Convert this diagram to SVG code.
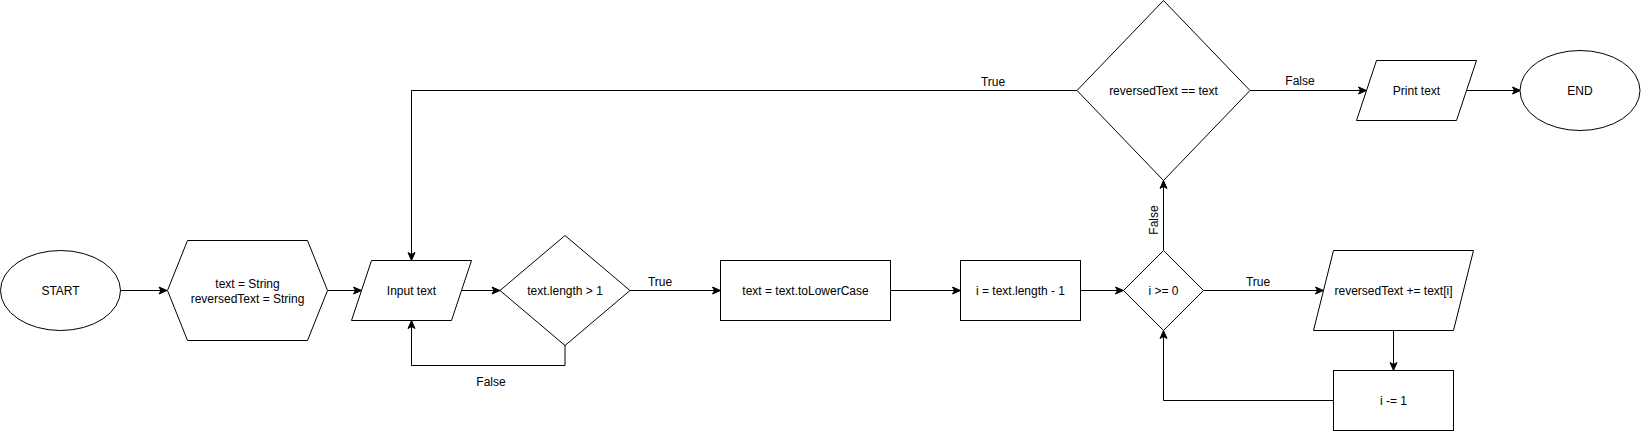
<svg xmlns="http://www.w3.org/2000/svg" width="1641" height="431" viewBox="0 0 1641 431">
<style>
.n{fill:#fff;stroke:#000;stroke-width:1}
.t{font-family:"Liberation Sans",Arial,Helvetica,sans-serif;font-size:12px;fill:#000;text-anchor:middle;dominant-baseline:central}
.e{fill:none;stroke:#000;stroke-width:1}
</style>
<defs>
<marker id="arr" markerUnits="userSpaceOnUse" markerWidth="10" markerHeight="10" viewBox="0 0 10 10" refX="9" refY="5" orient="auto">
<path d="M1,1.5 L9,5 L1,8.5 L3,5 Z" fill="#000" stroke="#000" stroke-width="1"/>
</marker>
</defs>
<rect width="1641" height="431" fill="#fff"/>
<g id="connectors">
<path class="e" d="M120.5,290.5 H167" marker-end="url(#arr)"/>
<path class="e" d="M327.5,290.5 H361.5" marker-end="url(#arr)"/>
<path class="e" d="M461.5,290.5 H500" marker-end="url(#arr)"/>
<path class="e" d="M630,290.5 H720.5" marker-end="url(#arr)"/>
<path class="e" d="M565,345 V365.5 H411.5 V320.5" marker-end="url(#arr)"/>
<path class="e" d="M890.5,290.5 H960.5" marker-end="url(#arr)"/>
<path class="e" d="M1080.5,290.5 H1123.5" marker-end="url(#arr)"/>
<path class="e" d="M1203.5,290.5 H1323.5" marker-end="url(#arr)"/>
<path class="e" d="M1393.5,330 V370.5" marker-end="url(#arr)"/>
<path class="e" d="M1333.5,400.5 H1163.5 V330.5" marker-end="url(#arr)"/>
<path class="e" d="M1163.5,250 V180.5" marker-end="url(#arr)"/>
<path class="e" d="M1077,90.5 H411.5 V260.5" marker-end="url(#arr)"/>
<path class="e" d="M1250,90.5 H1366.5" marker-end="url(#arr)"/>
<path class="e" d="M1466.5,90.5 H1520.5" marker-end="url(#arr)"/>
<text class="t" x="660" y="282">True</text>
<text class="t" x="491" y="382">False</text>
<text class="t" x="1258" y="282">True</text>
<text class="t" transform="translate(1154,220) rotate(-90)" x="0" y="0">False</text>
<text class="t" x="993" y="82">True</text>
<text class="t" x="1300" y="81">False</text>
</g>
<g id="start">
<ellipse class="n" cx="60.5" cy="290.5" rx="60" ry="40"/>
<text class="t" x="60.5" y="290.5">START</text>
</g>
<g id="declare">
<polygon class="n" points="167.5,290.5 187.5,240.5 307.5,240.5 327.5,290.5 307.5,340.5 187.5,340.5"/>
<text class="t" x="247.5" y="284">text = String</text>
<text class="t" x="247.5" y="298.5">reversedText = String</text>
</g>
<g id="input">
<polygon class="n" points="371.5,260.5 471.5,260.5 451.5,320.5 351.5,320.5"/>
<text class="t" x="411.5" y="290.5">Input text</text>
</g>
<g id="lengthCheck">
<polygon class="n" points="500,290.5 565,235.5 630,290.5 565,345.5"/>
<text class="t" x="565" y="290.5">text.length &gt; 1</text>
</g>
<g id="lower">
<rect class="n" x="720.5" y="260.5" width="170" height="60"/>
<text class="t" x="805.5" y="290.5">text = text.toLowerCase</text>
</g>
<g id="initI">
<rect class="n" x="960.5" y="260.5" width="120" height="60"/>
<text class="t" x="1020.5" y="290.5">i = text.length - 1</text>
</g>
<g id="loopCheck">
<polygon class="n" points="1123.5,290.5 1163.5,250.5 1203.5,290.5 1163.5,330.5"/>
<text class="t" x="1163.5" y="290.5">i &gt;= 0</text>
</g>
<g id="append">
<polygon class="n" points="1333.5,250.5 1473.5,250.5 1453.5,330.5 1313.5,330.5"/>
<text class="t" x="1393.5" y="290.5">reversedText += text[i]</text>
</g>
<g id="decrement">
<rect class="n" x="1333.5" y="370.5" width="120" height="60"/>
<text class="t" x="1393.5" y="400.5">i -= 1</text>
</g>
<g id="compare">
<polygon class="n" points="1077,90.5 1163.5,0.5 1250,90.5 1163.5,180.5"/>
<text class="t" x="1163.5" y="90.5">reversedText == text</text>
</g>
<g id="print">
<polygon class="n" points="1376.5,60.5 1476.5,60.5 1456.5,120.5 1356.5,120.5"/>
<text class="t" x="1416.5" y="90.5">Print text</text>
</g>
<g id="end">
<ellipse class="n" cx="1580" cy="90.5" rx="60" ry="40"/>
<text class="t" x="1580" y="90.5">END</text>
</g>
</svg>
